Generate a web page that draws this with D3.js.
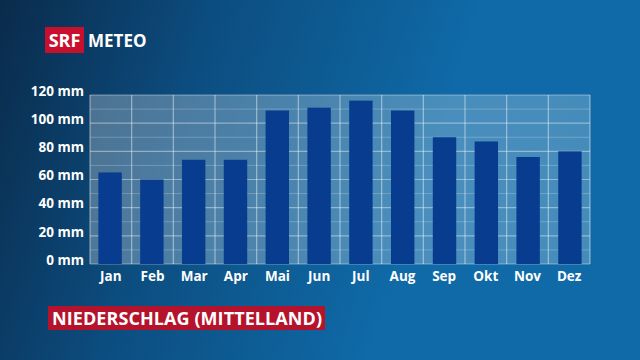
<!DOCTYPE html>
<html>
<head>
<meta charset="utf-8">
<script src="https://cdn.jsdelivr.net/npm/d3@7"></script>
<style>
  html, body { margin: 0; padding: 0; background: #0b3358; }
  svg { display: block; font-family: "Open Sans", "DejaVu Sans", sans-serif; }
</style>
</head>
<body>
<svg id="chart" width="640" height="360"></svg>
<script>
// Monthly precipitation, Mittelland
const months = ["Jan", "Feb", "Mar", "Apr", "Mai", "Jun", "Jul", "Aug", "Sep", "Okt", "Nov", "Dez"];
const precipitation = [65, 60, 74, 74, 109, 111, 116, 109, 90, 87, 76, 80];
const yTicks = [0, 20, 40, 60, 80, 100, 120];
const gridSteps = [10, 30, 50, 70, 90, 110];

const width = 640, height = 360;
const margin = { left: 90, right: 50, top: 95, bottom: 96 };
const innerW = width - margin.left - margin.right;
const innerH = height - margin.top - margin.bottom;

const svg = d3.select("#chart");
const defs = svg.append("defs");

// Background gradient: dark navy top-left to brighter blue right
const bg = defs.append("linearGradient")
  .attr("id", "bg").attr("gradientUnits", "userSpaceOnUse")
  .attr("x1", 0).attr("y1", 0).attr("x2", 440).attr("y2", 140);
bg.append("stop").attr("offset", "0%").attr("stop-color", "#0a2b4b");
bg.append("stop").attr("offset", "45%").attr("stop-color", "#0c4d80");
bg.append("stop").attr("offset", "100%").attr("stop-color", "#0f6aa7");
svg.append("rect").attr("width", width).attr("height", height).attr("fill", "url(#bg)");

// Plot panel gradient
const panel = defs.append("linearGradient")
  .attr("id", "panel").attr("x1", "0").attr("y1", "0").attr("x2", "1").attr("y2", "0");
panel.append("stop").attr("offset", "0%").attr("stop-color", "#ffffff").attr("stop-opacity", 0.27);
panel.append("stop").attr("offset", "100%").attr("stop-color", "#ffffff").attr("stop-opacity", 0.23);

const g = svg.append("g").attr("transform", `translate(${margin.left},${margin.top})`);

const x = d3.scaleBand().domain(months).range([0, innerW]).paddingInner(0.44).paddingOuter(0.2);
const xCol = d3.scaleBand().domain(months).range([0, innerW]);
const y = d3.scaleLinear().domain([0, 120]).range([innerH, 0]);

g.append("rect")
  .attr("width", innerW).attr("height", innerH)
  .attr("fill", "url(#panel)");

// Minor horizontal grid
g.selectAll(".minor").data(gridSteps).join("line")
  .attr("x1", 0).attr("x2", innerW)
  .attr("y1", d => y(d)).attr("y2", d => y(d))
  .attr("stroke", "#ffffff").attr("stroke-opacity", 0.22).attr("stroke-width", 1);

// Major horizontal grid
g.selectAll(".major").data(yTicks).join("line")
  .attr("x1", 0).attr("x2", innerW)
  .attr("y1", d => y(d)).attr("y2", d => y(d))
  .attr("stroke", "#ffffff").attr("stroke-opacity", 0.4).attr("stroke-width", 1.2);

// Vertical column dividers
g.selectAll(".vline").data(months.concat(["end"])).join("line")
  .attr("x1", d => d === "end" ? innerW : xCol(d))
  .attr("x2", d => d === "end" ? innerW : xCol(d))
  .attr("y1", 0).attr("y2", innerH)
  .attr("stroke", "#ffffff").attr("stroke-opacity", 0.45).attr("stroke-width", 1.2);

// Bars
g.selectAll(".bar").data(precipitation).join("rect")
  .attr("x", (d, i) => x(months[i]))
  .attr("width", x.bandwidth())
  .attr("y", d => y(d))
  .attr("height", d => innerH - y(d))
  .attr("fill", "#083c8e");

// Y labels (sit slightly above their grid line)
g.selectAll(".ylab").data(yTicks).join("text")
  .attr("x", -6).attr("y", d => y(d) - 4)
  .attr("dy", "0.35em")
  .attr("text-anchor", "end")
  .attr("fill", "#ffffff")
  .attr("font-size", 13.5).attr("font-weight", 700)
  .text(d => `${d} mm`);

// X labels
g.selectAll(".xlab").data(months).join("text")
  .attr("x", d => xCol(d) + xCol.bandwidth() / 2)
  .attr("y", innerH + 17)
  .attr("text-anchor", "middle")
  .attr("fill", "#ffffff")
  .attr("font-size", 13.5).attr("font-weight", 700)
  .text(d => d);

// SRF METEO logo
svg.append("rect").attr("x", 45).attr("y", 27).attr("width", 39).attr("height", 26).attr("fill", "#c8102e");
svg.append("text").attr("x", 64.5).attr("y", 46.5).attr("text-anchor", "middle")
  .attr("fill", "#ffffff").attr("font-size", 18).attr("font-weight", 700)
  .text("SRF");
svg.append("text").attr("x", 88).attr("y", 46.5)
  .attr("fill", "#ffffff").attr("font-size", 17).attr("font-weight", 700)
  .text("METEO");

// Title box
svg.append("rect").attr("x", 48).attr("y", 306).attr("width", 277).attr("height", 24).attr("fill", "#b5122b");
svg.append("text").attr("x", 52).attr("y", 324.5)
  .attr("fill", "#ffffff").attr("font-size", 18).attr("font-weight", 700)
  .attr("textLength", 270).attr("lengthAdjust", "spacing")
  .text("NIEDERSCHLAG (MITTELLAND)");
</script>
</body>
</html>
